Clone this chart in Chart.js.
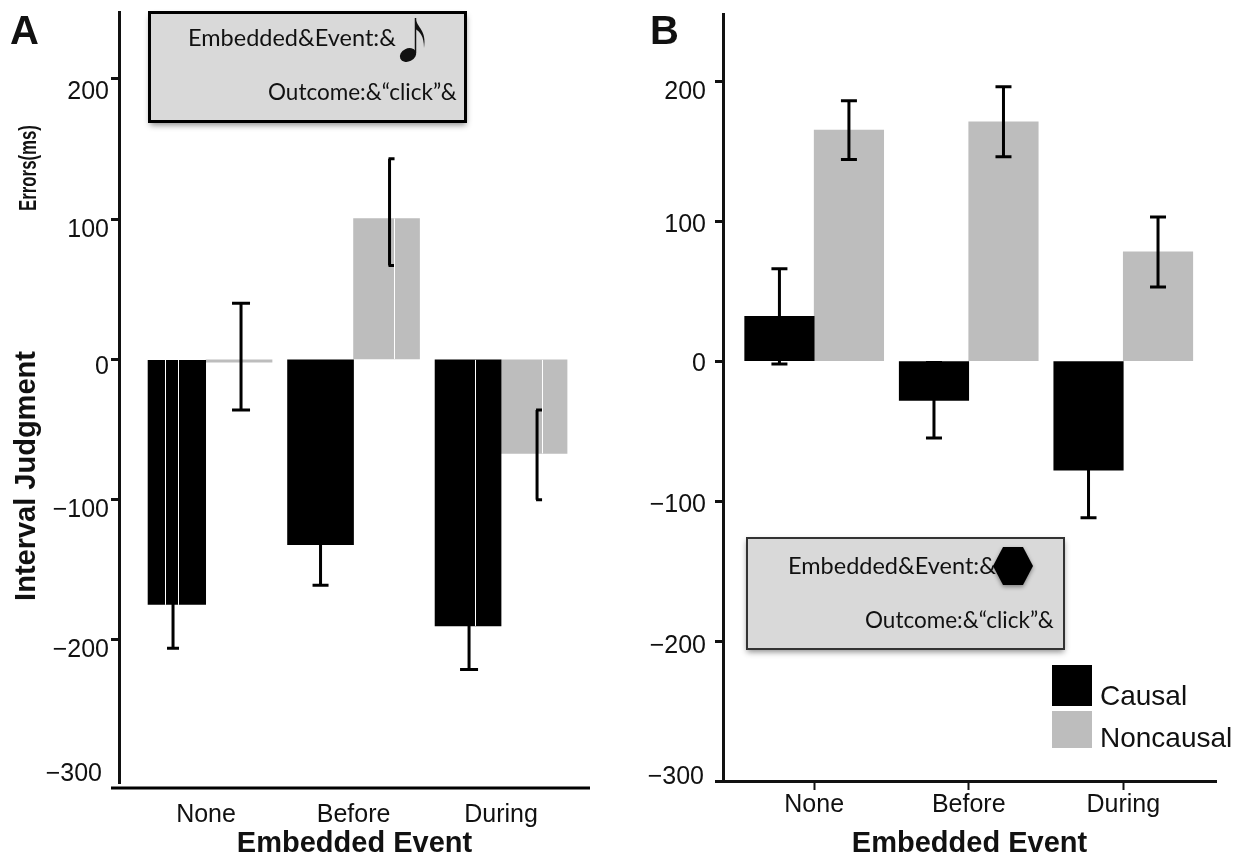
<!DOCTYPE html>
<html lang="en"><head>
<title>Interval Judgment Errors</title>
<meta charset="utf-8">
<style type="text/css">
body { margin:0; background:#ffffff; }
canvas { position:absolute; left:0; top:0; }
</style>
<script src="https://cdn.jsdelivr.net/npm/chart.js"></script>
</head>
<body>
<canvas id="chartA" width="1244" height="861"></canvas>
<canvas id="chartB" width="1244" height="861"></canvas>
<script>
const categories = ['None', 'Before', 'During'];
const yTickValues = [200, 100, 0, -100, -200, -300];

const causalA = [-175, -132, -190];
const noncausalA = [-2, 100.5, -67];
const causalLowA = [-206, -161, -221];
const causalHighA = [-144, -103, -159];
const noncausalLowA = [-36, 67, -100];
const noncausalHighA = [40, 143, -36];

const causalB = [32, -28, -78];
const noncausalB = [165, 171, 78];
const causalLowB = [-2, -55, -112];
const causalHighB = [66, -1, -44];
const noncausalLowB = [144, 146, 53];
const noncausalHighB = [186, 196, 103];

const BLACK = '#000000', GREY = '#bdbdbd', INK = '#111111';
const SANS = '"Liberation Sans"', BOXFONT = 'Lato';

function text(ctx, str, x, y, font, align) {
  ctx.font = font; ctx.fillStyle = INK; ctx.textAlign = align || 'left'; ctx.textBaseline = 'alphabetic';
  ctx.fillText(str, x, y);
}

function rotated(ctx, str, x, y, font, squeeze) {
  ctx.save(); ctx.translate(x, y); ctx.rotate(-Math.PI / 2); ctx.scale(squeeze || 1, 1);
  ctx.font = font; ctx.fillStyle = INK; ctx.textAlign = 'center'; ctx.textBaseline = 'middle';
  ctx.fillText(str, 0, 0); ctx.restore();
}

function noteBox(ctx, x, y, w, h, lw) {
  ctx.save();
  ctx.shadowColor = 'rgba(0,0,0,0.45)'; ctx.shadowBlur = 6; ctx.shadowOffsetY = 3;
  ctx.fillStyle = '#d9d9d9'; ctx.fillRect(x, y, w, h);
  ctx.restore();
  ctx.strokeStyle = lw > 2 ? '#000000' : '#333333'; ctx.lineWidth = lw; ctx.strokeRect(x, y, w, h);
}

// eighth note in the panel A annotation
function musicNote(ctx) {
  ctx.fillStyle = '#111111'; ctx.strokeStyle = '#111111';
  ctx.beginPath(); ctx.ellipse(408, 55, 8.5, 6.5, -0.45, 0, Math.PI * 2); ctx.fill();
  ctx.lineWidth = 1.5; ctx.beginPath(); ctx.moveTo(415.5, 53); ctx.lineTo(415.5, 18); ctx.stroke();
  ctx.beginPath(); ctx.moveTo(415.5, 18); ctx.bezierCurveTo(417, 28, 427, 30, 424, 48);
  ctx.bezierCurveTo(424, 36, 420, 32, 415.5, 29); ctx.closePath(); ctx.fill();
}

// error bars, tick labels and the annotations that the library has no element for
const extras = {
  id: 'extras',
  afterDatasetsDraw(chart, args, o) {
    const ctx = chart.ctx, y = chart.scales.y;
    chart.data.datasets.forEach((ds, d) => {
      chart.getDatasetMeta(d).data.forEach((bar, i) => {
        const ex = bar.x + o.errNudge[d][i], c = o.caps[d][i];
        const lo = y.getPixelForValue(ds.errLow[i]), hi = y.getPixelForValue(ds.errHigh[i]);
        ctx.strokeStyle = '#000000'; ctx.lineWidth = o.errWidth; ctx.beginPath();
        ctx.moveTo(ex, lo); ctx.lineTo(ex, hi);
        ctx.moveTo(ex + c[0], lo); ctx.lineTo(ex + c[1], lo);
        ctx.moveTo(ex + c[0], hi); ctx.lineTo(ex + c[1], hi);
        ctx.stroke();
      });
    });
    o.stripes.forEach(s => {
      const bar = chart.getDatasetMeta(s[0]).data[s[1]];
      ctx.fillStyle = '#ffffff'; ctx.fillRect(s[2], Math.min(bar.y, bar.base), 1, Math.abs(bar.base - bar.y));
    });
    y.ticks.forEach((t, i) => {
      const s = t.value.toString().replace('-', '\u2212');
      text(ctx, s, o.labelRight + o.labelDx[i], y.getPixelForValue(t.value) + o.labelDy[i] + 9, '25px ' + SANS, 'right');
    });
    if (o.draw) o.draw(ctx, chart);
  }
};

function makeChart(id, c) {
  return new Chart(document.getElementById(id), {
    type: 'bar',
    data: { datasets: [
      { label: 'Causal', backgroundColor: BLACK, borderColor: '#ffffff', borderWidth: c.causalBorder || 0, barThickness: c.barWidth,
        data: c.causal.map((v, i) => ({ x: i + 1, y: v })), errLow: c.causalLow, errHigh: c.causalHigh },
      { label: 'Noncausal', backgroundColor: GREY, borderWidth: 0, barThickness: c.barWidth,
        data: c.noncausal.map((v, i) => ({ x: i + 1, y: v })), errLow: c.noncausalLow, errHigh: c.noncausalHigh }
    ] },
    options: {
      responsive: false, animation: false, devicePixelRatio: 1,
      layout: { padding: { left: c.left - 8, top: c.top, right: 1244 - c.right, bottom: 0 } },
      plugins: { legend: { display: false }, tooltip: { enabled: false }, extras: c.extras },
      scales: {
        x: {
          type: 'linear', min: c.xMin, max: c.xMax, offset: false,
          afterBuildTicks(s) { s.ticks = categories.map((n, i) => ({ value: i + 1 })); },
          afterFit(s) { s.height = 861 - c.bottom; },
          grid: { display: c.xTicks, offset: false, drawOnChartArea: false, tickLength: 9, tickWidth: 2, tickColor: '#111111' },
          border: { display: c.xTicks, color: '#111111', width: 3 },
          ticks: { color: INK, padding: c.xPad, autoSkip: false, maxRotation: 0, font: { family: SANS, size: 25 },
            callback: v => categories[v - 1] },
          title: { display: true, text: 'Embedded Event', color: INK, padding: 0, font: { family: SANS, size: 29, weight: 'bold' } }
        },
        y: {
          min: c.yMin, max: c.yMax,
          afterBuildTicks(s) { s.ticks = yTickValues.map(v => ({ value: v })); },
          afterFit(s) { s.width = 8; },
          grid: { drawOnChartArea: false, tickLength: 8, tickWidth: 3,
            tickColor: t => (t.tick && t.tick.value === -300 && !c.xTicks) ? 'transparent' : '#111111' },
          border: { color: '#111111', width: 3 },
          ticks: { display: false }
        }
      }
    },
    plugins: [extras]
  });
}

makeChart('chartA', {
  causal: causalA, noncausal: noncausalA, causalLow: causalLowA, causalHigh: causalHighA,
  noncausalLow: noncausalLowA, noncausalHigh: noncausalHighA,
  causalBorder: c => (c.dataIndex === 0 ? { left: 8, right: 0, top: 0, bottom: 0 } : 0),
  left: 119, right: 590, top: 12, bottom: 783, xMin: 0.41, xMax: 3.603, yMin: -302, yMax: 247.7,
  barWidth: 66, xTicks: false, xPad: 8,
  extras: {
    errWidth: 3, labelRight: 109, labelDx: [0, 0, 0, 0, 0, -7], labelDy: [11, 9, 6, 8, 8, -8],
    errNudge: [[0, 0, 1], [2, 3, 3]],
    caps: [[[-6, 6], [-8, 8], [-9, 9]], [[-9, 9], [-1, 5], [-1, 5]]],
    stripes: [[0, 0, 165], [0, 0, 178], [0, 2, 475], [1, 1, 394], [1, 2, 542]],
    draw(ctx) {
      ctx.fillStyle = '#000000'; ctx.fillRect(111, 786.5, 479, 3);
      text(ctx, 'A', 10, 44, 'bold 40px ' + SANS);
      rotated(ctx, 'Interval Judgment', 27, 476, 'bold 29px ' + SANS);
      rotated(ctx, 'Errors(ms)', 29, 168, 'bold 24px ' + SANS, 0.7);
      noteBox(ctx, 149.5, 12.5, 316, 109, 3);
      text(ctx, 'Embedded&Event:&', 188, 46, '23.5px ' + BOXFONT);
      text(ctx, 'Outcome:&\u201Cclick\u201D&', 268, 100, '22.5px ' + BOXFONT);
      musicNote(ctx);
    }
  }
});

makeChart('chartB', {
  causal: causalB, noncausal: noncausalB, causalLow: causalLowB, causalHigh: causalHighB,
  noncausalLow: noncausalLowB, noncausalHigh: noncausalHighB,
  left: 723, right: 1216, top: 14, bottom: 781, xMin: 0.41, xMax: 3.6, yMin: -300, yMax: 248,
  barWidth: 69.5, xTicks: true, xPad: 0,
  extras: {
    errWidth: 3, labelRight: 706, labelDx: [0, 0, 0, 0, 0, -2], labelDy: [9, 2, 1, 2, 3, -6],
    errNudge: [[0, 0, 0], [0, 0, 0]],
    caps: [[[-8, 8], [-8, 8], [-8, 8]], [[-8, 8], [-8, 8], [-8, 8]]],
    stripes: [],
    draw(ctx, chart) {
      text(ctx, 'B', 650, 44, 'bold 40px ' + SANS);
      noteBox(ctx, 747, 538, 317, 111, 2);
      text(ctx, 'Embedded&Event:&', 788, 574, '23.5px ' + BOXFONT);
      text(ctx, 'Outcome:&\u201Cclick\u201D&', 865, 628, '22.5px ' + BOXFONT);
      // hexagon marker in the note
      ctx.save();
      ctx.shadowColor = 'rgba(0,0,0,0.4)'; ctx.shadowBlur = 4; ctx.shadowOffsetY = 2;
      ctx.fillStyle = '#000000'; ctx.beginPath();
      [[993, 566], [1003, 547], [1023, 547], [1033, 566], [1023, 585], [1003, 585]].forEach(p => ctx.lineTo(p[0], p[1]));
      ctx.closePath(); ctx.fill(); ctx.restore();
      // legend from the dataset labels and colours
      const ds = chart.data.datasets;
      ctx.fillStyle = ds[0].backgroundColor; ctx.fillRect(1052, 665, 40, 41);
      ctx.fillStyle = ds[1].backgroundColor; ctx.fillRect(1052, 711, 40, 37);
      text(ctx, ds[0].label, 1100, 705, '28px ' + SANS);
      text(ctx, ds[1].label, 1100, 747, '28px ' + SANS);
    }
  }
});
</script>
</body></html>
